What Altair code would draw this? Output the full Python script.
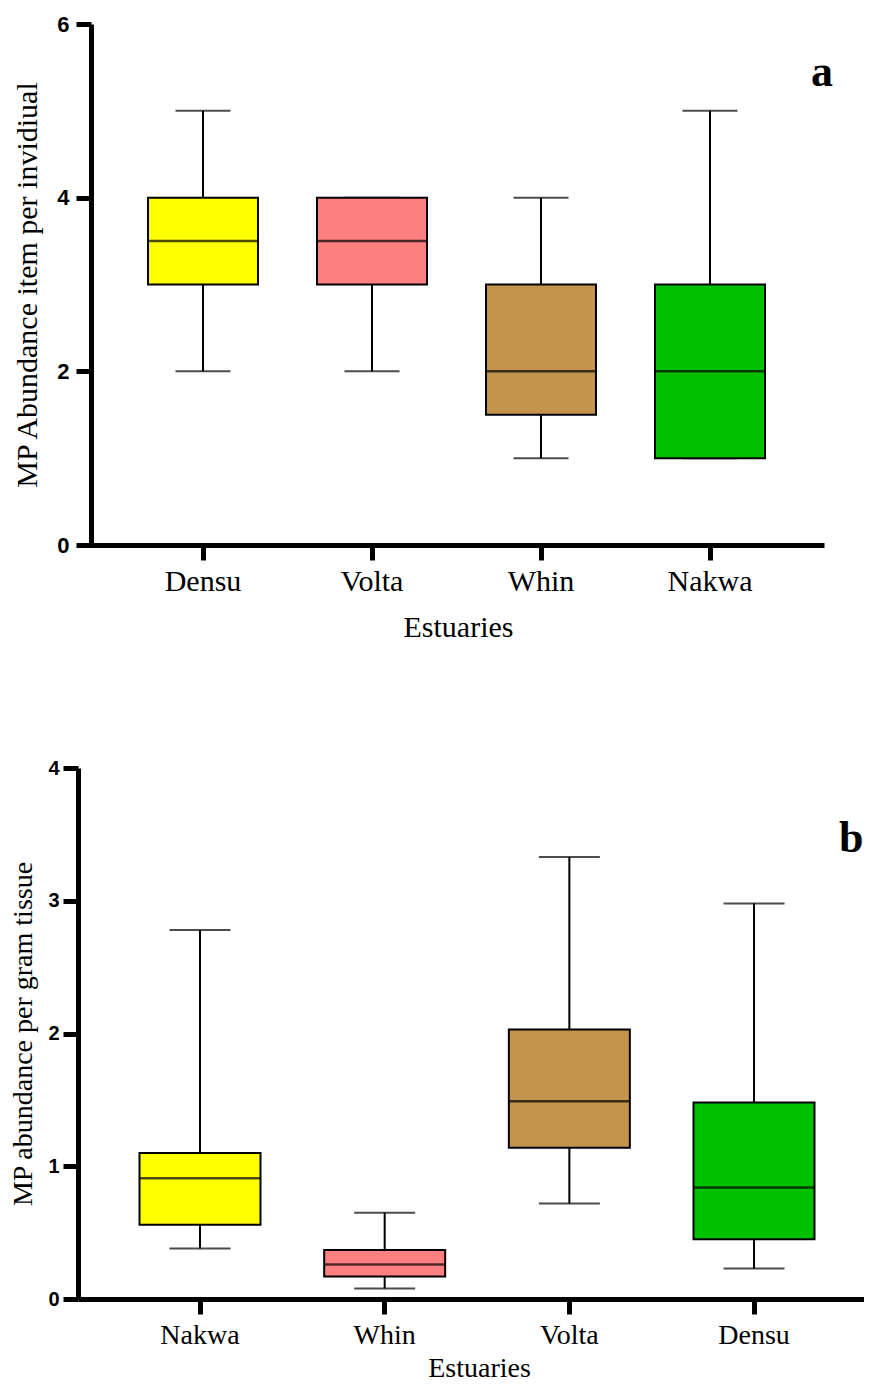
import altair as alt
import pandas as pd

# ---- Panel a: MP abundance item per individual ----
cats_a = ["Densu", "Volta", "Whin", "Nakwa"]
min_a = [2, 2, 1, 1]
q1_a = [3, 3, 1.5, 1]
med_a = [3.5, 3.5, 2, 2]
q3_a = [4, 4, 3, 3]
max_a = [5, 4, 4, 5]

# ---- Panel b: MP abundance per gram tissue ----
cats_b = ["Nakwa", "Whin", "Volta", "Densu"]
min_b = [0.38, 0.08, 0.72, 0.23]
q1_b = [0.56, 0.17, 1.14, 0.45]
med_b = [0.91, 0.26, 1.49, 0.84]
q3_b = [1.10, 0.37, 2.03, 1.48]
max_b = [2.78, 0.65, 3.33, 2.98]

# box fill colours, in category order (same order in both panels)
box_colors = ["#FFFF00", "#FF8080", "#C4934D", "#00C000"]

SERIF = "Liberation Serif"
SANS = "Liberation Sans"


def panel(cats, mins, q1s, meds, q3s, maxs, *, width, height, ymax, yvalues,
          ytitle, letter, letter_x, letter_y, letter_clip, box_w, cap_w,
          pad_outer, align, y_offset, ylab_size, ylab_pad, ytitle_size,
          ytitle_x, xlab_size, xlab_pad, xtitle_size, xtitle_x, xtitle_y):
    df = pd.DataFrame({"cat": cats, "lo": mins, "q1": q1s, "med": meds,
                       "q3": q3s, "hi": maxs, "fill": box_colors})
    x = alt.X("cat:N", sort=cats,
              scale=alt.Scale(domain=cats, paddingInner=0,
                              paddingOuter=pad_outer, align=align),
              axis=alt.Axis(title="Estuaries", labelAngle=0,
                            labelFont=SERIF, labelFontSize=xlab_size,
                            labelFontWeight="normal", labelBaseline="alphabetic",
                            labelPadding=xlab_pad, titleFont=SERIF,
                            titleFontSize=xtitle_size, titleFontWeight="normal",
                            titleX=xtitle_x, titleY=xtitle_y,
                            titleAlign="center", titleBaseline="alphabetic"))
    yscale = alt.Scale(domain=[0, ymax], nice=False, zero=True)
    yaxis = alt.Axis(title=ytitle, values=yvalues, format="d",
                     offset=y_offset, labelFont=SANS, labelFontSize=ylab_size,
                     labelFontWeight="bold", labelPadding=ylab_pad,
                     titleFont=SERIF, titleFontSize=ytitle_size,
                     titleFontWeight="normal", titleX=ytitle_x,
                     titleY=height / 2, titleAngle=270, titleAlign="center",
                     titleBaseline="alphabetic")
    base = alt.Chart(df)
    whisker = base.mark_rule(color="black", strokeWidth=2).encode(
        x=x, y=alt.Y("lo:Q", scale=yscale, axis=yaxis), y2="hi:Q")
    cap_lo = base.mark_tick(color="black", size=cap_w, thickness=2).encode(
        x=x, y=alt.Y("lo:Q", scale=yscale))
    cap_hi = base.mark_tick(color="black", size=cap_w, thickness=2).encode(
        x=x, y=alt.Y("hi:Q", scale=yscale))
    box = base.mark_bar(size=box_w, stroke="black", strokeWidth=2,
                        opacity=1).encode(
        x=x, y=alt.Y("q1:Q", scale=yscale), y2="q3:Q",
        color=alt.Color("fill:N", scale=None, legend=None))
    median = base.mark_tick(color="black", size=box_w, thickness=2.5).encode(
        x=x, y=alt.Y("med:Q", scale=yscale))
    lab = alt.Chart(pd.DataFrame({"t": [letter]})).mark_text(
        font=SERIF, fontSize=44, fontWeight="bold", color="black",
        align="left", baseline="alphabetic", clip=letter_clip).encode(
        text="t:N", x=alt.value(letter_x), y=alt.value(letter_y))
    return alt.layer(whisker, cap_lo, cap_hi, box, median, lab).properties(
        width=width, height=height)


pa = panel(cats_a, min_a, q1_a, med_a, q3_a, max_a,
           width=746, height=521, ymax=6, yvalues=[0, 2, 4, 6],
           ytitle="MP Abundance item per invidiual", letter="a",
           letter_x=733, letter_y=62, letter_clip=False, box_w=110, cap_w=55,
           pad_outer=0.2071, align=0.5786, y_offset=-13,
           ylab_size=22, ylab_pad=7, ytitle_size=30, ytitle_x=-55,
           xlab_size=30, xlab_pad=30, xtitle_size=30, xtitle_x=380,
           xtitle_y=91)

pb = panel(cats_b, min_b, q1_b, med_b, q3_b, max_b,
           width=786, height=531, ymax=4, yvalues=[0, 1, 2, 3, 4],
           ytitle="MP abundance per gram tissue", letter="b",
           letter_x=761, letter_y=84, letter_clip=False, box_w=121, cap_w=61,
           pad_outer=0.1281, align=0.627, y_offset=0,
           ylab_size=20, ylab_pad=4, ytitle_size=28, ytitle_x=-47,
           xlab_size=28, xlab_pad=29, xtitle_size=28, xtitle_x=401,
           xtitle_y=77)

chart = alt.vconcat(pa, pb, spacing=116).properties(
    padding={"left": 0, "top": 5, "right": 0, "bottom": 0},
    background="white"
).configure_view(stroke=None).configure_axis(
    grid=False, domainColor="black", domainWidth=5, tickColor="black",
    tickWidth=5, tickSize=15, labelColor="black", titleColor="black",
    domainCap="butt"
)

chart.save("out.html", embed_options={"renderer": "svg", "actions": False})
